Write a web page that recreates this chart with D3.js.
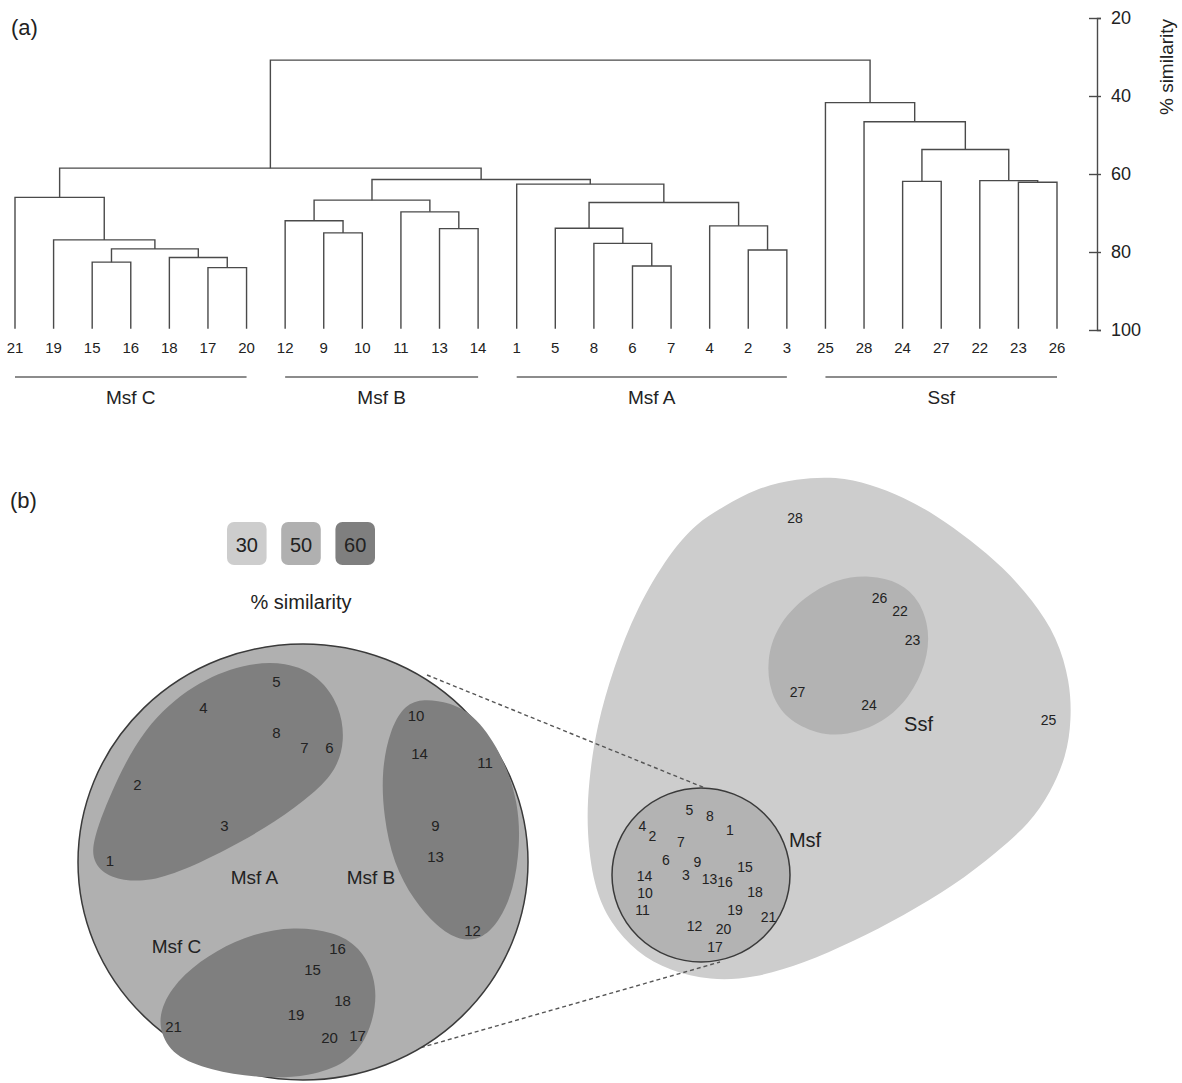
<!DOCTYPE html>
<html>
<head>
<meta charset="utf-8">
<script src="https://cdn.jsdelivr.net/npm/d3@7"></script>
<style>
  html, body { margin: 0; padding: 0; background: #fff; }
  svg { display: block; font-family: "Liberation Sans", Arial, Helvetica, sans-serif; }
</style>
</head>
<body>
<svg id="chart" width="1182" height="1083"></svg>
<script>
// ---------------- (a) dendrogram data ----------------
const leafOrder = ["21","19","15","16","18","17","20","12","9","10","11","13","14",
                   "1","5","8","6","7","4","2","3","25","28","24","27","22","23","26"];
// merges: [left child, right child, % similarity at join]; "mN" refers to merge N
const mergeLeft  = ["15","17","18","m0","19","21","9","12","13","11","m7","6","8","5","2","4","m13","1","m10","m5","24","23","22","m20","28","25","m19"];
const mergeRight = ["16","20","m1","m2","m3","m4","10","m6","14","m8","m9","7","m11","m12","3","m14","m15","m16","m17","m18","27","26","m21","m22","m23","m24","m25"];
const mergeSim   = [82.6,84.0,81.4,79.2,76.9,66.0,75.1,72.0,74.0,69.7,66.7,83.6,77.8,73.9,79.5,73.3,67.3,62.6,61.4,58.5,61.9,62.1,61.7,53.7,46.6,41.7,30.8];
const leafSim = 99.7;
const axisTicks = [20, 40, 60, 80, 100];
const groupNames = ["Msf C", "Msf B", "Msf A", "Ssf"];
const groupFirst = ["21", "12", "1", "25"];
const groupLast  = ["20", "14", "3", "26"];

// ---------------- (b) MDS data ----------------
// zoomed inset (Msf samples only)
const insetLabels = ["5","4","8","7","6","2","3","1","10","14","11","9","13","12","16","15","18","19","21","20","17"];
const insetX = [39.3,24.7,39.3,44.9,49.9,11.5,28.9,6.0,67.2,67.9,81.0,71.1,71.1,78.5,51.5,46.5,52.5,43.2,18.7,49.9,55.5];
const insetY = [79.7,74.5,69.5,66.5,66.5,59.2,51.0,44.0,72.9,65.3,63.5,51.0,44.7,29.9,26.3,22.2,16.0,13.2,10.7,8.5,8.9];
const insetOutline = { cx: 44.6, cy: 43.6, rx: 45, ry: 43.6 };
const msfAOutline = [[2.3,47.3],[6.0,57.3],[12.7,70.7],[22.7,79.3],[32.7,83.3],[41.3,83.7],[48.0,80.7],[52.0,74.7],[53.0,68.0],[51.3,62.0],[46.7,57.3],[39.3,51.7],[29.3,46.0],[19.3,41.3],[12.7,39.5],[6.0,40.3],[2.7,43.3]];
const msfBOutline = [[68.0,76.3],[74.0,75.6],[79.3,72.7],[84.7,64.7],[87.7,55.3],[88.0,46.7],[86.7,38.0],[84.0,32.0],[80.7,28.3],[76.0,27.7],[71.3,30.7],[66.7,36.0],[62.7,43.3],[60.7,52.7],[60.3,62.0],[62.0,70.0],[64.7,74.7]];
const msfCOutline = [[42.7,30.7],[50.7,29.7],[56.0,26.7],[59.0,20.7],[59.3,14.7],[57.3,8.0],[53.3,3.3],[46.0,0.7],[36.0,0.3],[26.0,2.0],[18.7,4.7],[15.7,10.0],[16.3,15.3],[20.7,21.3],[27.3,26.0],[34.7,29.3]];
const insetGroupNames = ["Msf A", "Msf B", "Msf C"];
const insetGroupX = [34.9, 58.2, 19.3];
const insetGroupY = [40.5, 40.5, 26.7];

// full MDS
const mdsLabels = ["28","26","22","23","27","24","25","5","8","4","2","1","7","6","9","15","14","3","13","16","18","10","11","19","21","12","20","17"];
const mdsX = [43.0,59.9,64.0,66.5,43.5,57.8,93.7,21.9,26.0,12.5,14.5,30.0,20.2,17.2,23.5,33.0,12.9,21.2,25.9,29.0,35.0,13.0,12.5,31.0,37.7,22.9,28.7,27.0];
const mdsY = [96.5,80.4,77.8,72.1,61.6,59.1,56.1,38.0,36.8,34.9,32.9,34.0,31.6,28.1,27.6,26.7,24.8,25.0,24.3,23.7,21.7,21.4,18.0,18.1,16.7,14.9,14.2,10.6];
const sim30Outline = [[28.7,98.7],[35.3,102.4],[43.3,104.3],[51.3,104.7],[58.0,103.2],[64.7,100.6],[71.3,96.9],[78.0,92.1],[84.7,86.5],[90.5,80.0],[95.5,72.5],[98.0,63.6],[98.3,56.1],[97.3,48.7],[94.0,41.3],[90.0,35.4],[83.3,29.5],[74.7,22.8],[64.7,16.9],[54.7,11.7],[44.7,7.3],[34.7,4.3],[26.0,3.9],[18.0,5.8],[11.3,9.5],[6.0,15.4],[2.7,22.8],[1.3,33.9],[1.7,43.6],[3.3,54.7],[6.7,66.5],[11.3,78.4],[18.0,89.5],[23.3,95.4]];
const ssfOutline = [[37.3,68.0],[39.3,74.7],[44.7,80.6],[51.3,84.3],[58.0,85.0],[64.0,83.6],[68.0,79.9],[70.0,73.9],[69.3,67.3],[66.0,60.6],[60.7,55.4],[53.3,52.8],[47.3,53.2],[41.3,56.1],[38.0,61.3]];
const msfOutline = { cx: 24.2, cy: 25.0, rx: 17.8, ry: 17.4 };
const mdsGroupNames = ["Ssf", "Msf"];
const mdsGroupX = [67.7, 45.0];
const mdsGroupY = [55.3, 32.0];
// zoom connectors: inset point -> full-MDS point
const connInsetX = [69.4, 57.4], connInsetY = [81.0, 3.4];
const connMdsX = [25.0, 28.0],   connMdsY = [42.4, 7.6];

const legendValues = ["30", "50", "60"];
const legendColors = ["#cdcdcd", "#b0b0b0", "#7f7f7f"];

// ---------------- drawing ----------------
const svg = d3.select("#chart");
const ink = "#4a4a4a", txt = "#222";

// (a)
const gA = svg.append("g");
const x = d3.scalePoint().domain(leafOrder).range([15, 1057]);
const y = d3.scaleLinear().domain([20, 100]).range([18, 330]);

gA.append("text").attr("x", 11).attr("y", 27).attr("dominant-baseline", "central")
  .attr("font-size", 22).attr("fill", txt).text("(a)");

const pos = {};
leafOrder.forEach(l => pos[l] = { x: x(l), h: leafSim });
const dPaths = [];
mergeSim.forEach((s, i) => {
  const a = pos[mergeLeft[i]], b = pos[mergeRight[i]];
  dPaths.push(`M${a.x},${y(a.h)}V${y(s)}H${b.x}V${y(b.h)}`);
  pos["m" + i] = { x: (a.x + b.x) / 2, h: s };
});
gA.selectAll("path.br").data(dPaths).join("path").attr("class", "br")
  .attr("d", d => d).attr("fill", "none").attr("stroke", ink).attr("stroke-width", 1.4);

gA.selectAll("text.leaf").data(leafOrder).join("text").attr("class", "leaf")
  .attr("x", d => x(d)).attr("y", 347).attr("text-anchor", "middle")
  .attr("dominant-baseline", "central").attr("font-size", 15).attr("fill", txt).text(d => d);

// group bars
groupNames.forEach((g, i) => {
  const x0 = x(groupFirst[i]), x1 = x(groupLast[i]);
  gA.append("line").attr("x1", x0).attr("x2", x1).attr("y1", 377).attr("y2", 377)
    .attr("stroke", "#666").attr("stroke-width", 1.4);
  gA.append("text").attr("x", (x0 + x1) / 2).attr("y", 397).attr("text-anchor", "middle")
    .attr("dominant-baseline", "central").attr("font-size", 19).attr("fill", txt).text(g);
});

// axis
const ax = gA.append("g").attr("transform", "translate(1097,0)")
  .call(d3.axisRight(y).tickValues(axisTicks).tickSizeOuter(0).tickSize(4).tickPadding(10));
ax.select(".domain").attr("stroke", ink).attr("stroke-width", 1.4);
ax.selectAll(".tick line").attr("x1", -8).attr("x2", 4).attr("stroke", ink).attr("stroke-width", 1.4);
ax.selectAll(".tick text").attr("font-size", 18).attr("fill", txt)
  .attr("font-family", "Liberation Sans, Arial, sans-serif");
gA.append("text").attr("transform", "translate(1166,67) rotate(-90)")
  .attr("text-anchor", "middle").attr("dominant-baseline", "central")
  .attr("font-size", 19).attr("fill", txt).text("% similarity");

// (b)
const gB = svg.append("g");
gB.append("text").attr("x", 10).attr("y", 500).attr("dominant-baseline", "central")
  .attr("font-size", 22).attr("fill", txt).text("(b)");

// legend
const lx = d3.scaleBand().domain(legendValues).range([227, 375]).paddingInner(0.27);
gB.selectAll("rect.leg").data(legendValues).join("rect").attr("class", "leg")
  .attr("x", d => lx(d)).attr("y", 522).attr("width", lx.bandwidth()).attr("height", 43)
  .attr("rx", 7).attr("fill", (d, i) => legendColors[i]);
gB.selectAll("text.leg").data(legendValues).join("text").attr("class", "leg")
  .attr("x", d => lx(d) + lx.bandwidth() / 2).attr("y", 545).attr("text-anchor", "middle")
  .attr("dominant-baseline", "central").attr("font-size", 20).attr("fill", txt).text(d => d);
gB.append("text").attr("x", 301).attr("y", 602).attr("text-anchor", "middle")
  .attr("dominant-baseline", "central").attr("font-size", 20).attr("fill", txt).text("% similarity");

// scales
const xi = d3.scaleLinear().domain([0, 100]).range([80, 580]);
const yi = d3.scaleLinear().domain([0, 100]).range([1080, 580]);
const xr = d3.scaleLinear().domain([0, 100]).range([580, 1080]);
const yr = d3.scaleLinear().domain([0, 100]).range([1000, 500]);
const blob = (sx, sy) => d3.line().x(d => sx(d[0])).y(d => sy(d[1])).curve(d3.curveBasisClosed);

// full MDS
gB.append("path").attr("d", blob(xr, yr)(sim30Outline)).attr("fill", legendColors[0]);
gB.append("path").attr("d", blob(xr, yr)(ssfOutline)).attr("fill", "#b3b3b3");
gB.append("ellipse").attr("cx", xr(msfOutline.cx)).attr("cy", yr(msfOutline.cy))
  .attr("rx", xr(msfOutline.rx) - xr(0)).attr("ry", yr(0) - yr(msfOutline.ry))
  .attr("fill", "#b3b3b3").attr("stroke", "#3a3a3a").attr("stroke-width", 1.5);
gB.selectAll("text.mds").data(mdsLabels).join("text").attr("class", "mds")
  .attr("x", (d, i) => xr(mdsX[i])).attr("y", (d, i) => yr(mdsY[i]))
  .attr("text-anchor", "middle").attr("dominant-baseline", "central")
  .attr("font-size", 14).attr("fill", txt).text(d => d);
gB.selectAll("text.mdsg").data(mdsGroupNames).join("text").attr("class", "mdsg")
  .attr("x", (d, i) => xr(mdsGroupX[i])).attr("y", (d, i) => yr(mdsGroupY[i]))
  .attr("text-anchor", "middle").attr("dominant-baseline", "central")
  .attr("font-size", 20).attr("fill", txt).text(d => d);

// connectors
connInsetX.forEach((v, i) => {
  gB.append("line").attr("x1", xi(v)).attr("y1", yi(connInsetY[i]))
    .attr("x2", xr(connMdsX[i])).attr("y2", yr(connMdsY[i]))
    .attr("stroke", "#555").attr("stroke-width", 1.4).attr("stroke-dasharray", "4,3");
});

// inset
gB.append("ellipse").attr("cx", xi(insetOutline.cx)).attr("cy", yi(insetOutline.cy))
  .attr("rx", xi(insetOutline.rx) - xi(0)).attr("ry", yi(0) - yi(insetOutline.ry))
  .attr("fill", "#b0b0b0").attr("stroke", "#3a3a3a").attr("stroke-width", 1.5);
[msfAOutline, msfBOutline, msfCOutline].forEach(o => {
  gB.append("path").attr("d", blob(xi, yi)(o)).attr("fill", legendColors[2]);
});
gB.selectAll("text.ins").data(insetLabels).join("text").attr("class", "ins")
  .attr("x", (d, i) => xi(insetX[i])).attr("y", (d, i) => yi(insetY[i]))
  .attr("text-anchor", "middle").attr("dominant-baseline", "central")
  .attr("font-size", 15).attr("fill", txt).text(d => d);
gB.selectAll("text.insg").data(insetGroupNames).join("text").attr("class", "insg")
  .attr("x", (d, i) => xi(insetGroupX[i])).attr("y", (d, i) => yi(insetGroupY[i]))
  .attr("text-anchor", "middle").attr("dominant-baseline", "central")
  .attr("font-size", 19).attr("fill", txt).text(d => d);
</script>
</body>
</html>
